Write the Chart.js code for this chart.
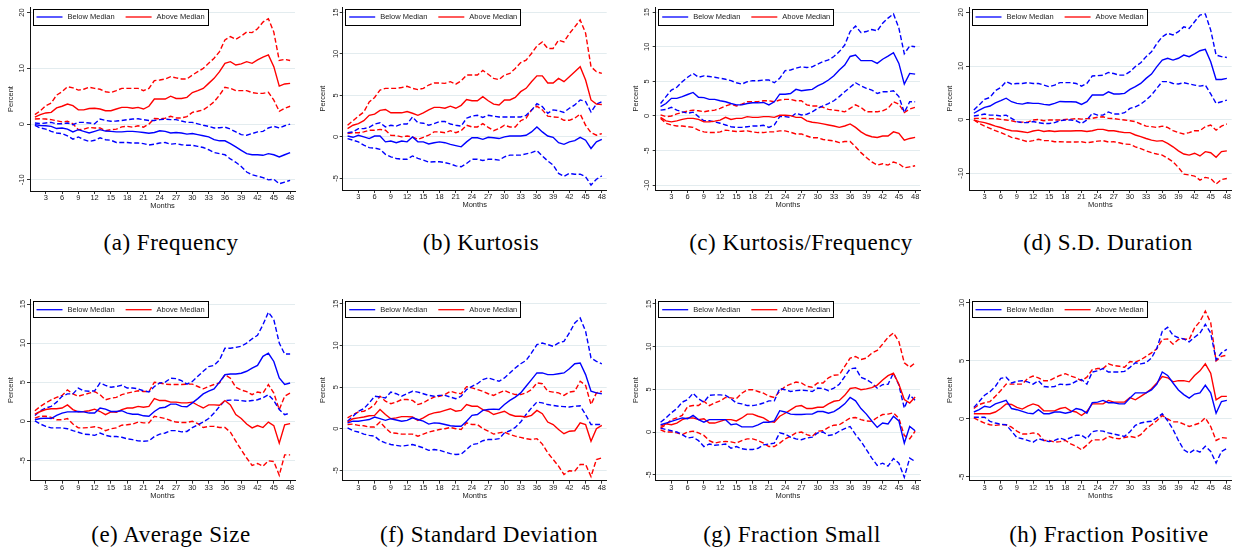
<!DOCTYPE html>
<html>
<head>
<meta charset="utf-8">
<title>Responses above and below the median</title>
<script src="https://cdn.jsdelivr.net/npm/chart.js@4.4.1/dist/chart.umd.min.js"></script>
<style>
  body { margin: 0; background: #fff; }
  #page { position: relative; width: 1240px; height: 556px; overflow: hidden; background: #fff; }
  #page canvas { position: absolute; }
  .caption { position: absolute; width: 320px; text-align: center; line-height: 26px;
             font-family: "Liberation Serif", "Times New Roman", serif; font-size: 23px;
             letter-spacing: 0.5px; color: #000; white-space: nowrap; }
</style>
</head>
<body>
<div id="page"></div>
<script>
const months = [1,2,3,4,5,6,7,8,9,10,11,12,13,14,15,16,17,18,19,20,21,22,23,24,
                25,26,27,28,29,30,31,32,33,34,35,36,37,38,39,40,41,42,43,44,45,46,47,48];
const xTicks = [3,6,9,12,15,18,21,24,27,30,33,36,39,42,45,48];

// y tick labels per panel
const yTicksA = [-10, 0, 10, 20];
const yTicksB = [-5, 0, 5, 10, 15];
const yTicksC = [-10, -5, 0, 5, 10, 15];
const yTicksD = [-10, 0, 10, 20];
const yTicksE = [-5, 0, 5, 10, 15];
const yTicksF = [-5, 0, 5, 10, 15];
const yTicksG = [-5, 0, 5, 10, 15];
const yTicksH = [-5, 0, 5, 10];

// (a) Frequency
const freqBelowHi = [0.2,0.1,0.2,0.3,0.05,0.05,0.2,-0.1,0.3,0.3,0.2,0.05,0.9,0.65,0.5,0.55,0.65,0.8,0.9,0.95,0.8,0.65,0.65,0.8,0.9,0.8,0.8,0.55,0.3,0.3,0.05,-0.2,-0.4,-0.7,-0.65,-0.55,-0.9,-1.4,-1.9,-2,-1.7,-1.4,-1.3,-0.7,-0.4,-0.7,-0.3,0];
const freqBelow   = [-0.1,-0.25,-0.3,-0.4,-0.8,-0.7,-0.9,-1.4,-1,-1.3,-1.6,-1.3,-1,-1.25,-1.3,-1.4,-1.4,-1.3,-1.3,-1.4,-1.5,-1.65,-1.5,-1.2,-1.3,-1.6,-1.5,-1.6,-1.8,-1.7,-1.9,-2.1,-2.3,-2.8,-3,-3,-3.5,-4.1,-4.7,-5.3,-5.5,-5.5,-5.6,-5.3,-5.5,-5.9,-5.5,-5.1];
const freqBelowLo = [-0.25,-0.7,-0.9,-1.3,-1.6,-1.7,-2.1,-2.7,-2.3,-2.8,-3.1,-2.9,-2.45,-2.8,-2.9,-3.3,-3.3,-3.3,-3.4,-3.4,-3.5,-3.75,-3.6,-3.4,-3.3,-3.6,-3.5,-3.7,-3.8,-3.8,-4,-4.2,-4.6,-5.1,-5.3,-5.5,-6.25,-6.85,-7.6,-8.6,-9.1,-9.35,-9.6,-10,-9.9,-10.7,-10.4,-10.1];
const freqAboveHi = [1.7,2.4,3.3,3.75,5.2,5.8,6.7,6.5,6.1,6.25,6.6,6.4,6.25,5.8,5.65,6,6.4,6.4,6.4,6.4,6,6.4,7.8,7.9,8.1,8.5,8.3,8.1,8.1,8.8,9.4,10,10.9,11.8,13,15.1,15.7,15.2,15.8,16.5,16.4,17.1,18.3,18.9,16.5,11.4,11.6,11.4];
const freqAbove   = [1.25,1.7,2,2.1,2.9,3.2,3.6,3.3,2.55,2.55,2.8,2.85,2.7,2.4,2.4,2.7,3,3,2.85,3,2.7,3.2,4.5,4.5,4.5,5,4.6,4.6,4.8,5.65,6,6.4,7.3,8.2,9.4,10.9,11.2,10.6,10.8,11.2,10.9,11.5,12,12.4,10.3,6.8,7.2,7.3];
const freqAboveLo = [0.9,0.95,0.9,0.8,0.6,0.4,0.5,0.05,-1,-0.9,-0.6,-0.7,-0.7,-1.2,-1,-0.9,-0.5,-0.4,-0.55,-0.3,-0.55,0,1,0.95,1.05,1.4,1.1,1.1,1.35,2.1,2.3,2.55,3.2,4,5.2,6.6,6.4,6,6,6,5.65,5.5,5.5,5.7,4.3,2.3,2.85,3.2];

// (b) Kurtosis
const kurtBelowHi = [0.5,0.6,1,1,1.15,1.55,1.7,1.2,1.4,1.3,1.55,1.55,2.4,1.7,1.65,1.4,1.6,1.85,1.85,1.55,1.4,1.3,2.25,2.5,2.6,2.35,2.6,2.5,2.4,2.4,2.4,2.4,2.4,2.6,3.2,4,3.65,2.85,3.25,3.15,2.95,3.45,3.85,4.45,4.25,3,3.95,4.25];
const kurtBelow   = [0.1,-0.05,0.2,0,-0.2,0.1,0.1,-0.6,-0.5,-0.7,-0.5,-0.6,0,-0.6,-0.6,-0.85,-0.7,-0.6,-0.7,-0.9,-1.05,-1.2,-0.6,-0.1,-0.1,-0.3,-0.05,-0.1,-0.2,0,0.1,0.1,0.1,0.2,0.6,1.2,0.6,0.1,-0.05,-0.7,-0.9,-0.6,-0.45,-0.05,-0.4,-1.4,-0.6,-0.3];
const kurtBelowLo = [-0.2,-0.4,-0.6,-1,-1.3,-1.35,-1.5,-2.1,-2.4,-2.6,-2.7,-2.7,-2.3,-2.6,-2.8,-3.05,-3,-3,-3.1,-3.25,-3.5,-3.6,-3.2,-2.7,-2.7,-2.85,-2.7,-2.7,-2.8,-2.4,-2.2,-2.2,-2.2,-2.05,-1.9,-1.65,-2.3,-2.9,-3.4,-4.4,-4.75,-4.4,-4.5,-4.5,-4.8,-5.8,-5.1,-4.7];
const kurtAboveHi = [1.4,1.95,2.5,3,4.2,4.75,5.65,5.85,5.85,5.85,5.95,6.1,5.85,5.7,5.85,6.25,6.5,6.5,6.45,6.65,6.35,6.75,7.45,7.45,7.45,8,7.55,7.05,6.9,7.45,7.65,8.25,8.95,9.25,10.05,10.95,11.45,10.65,10.65,11.65,11.45,12.45,13.25,14.1,12.5,8.45,7.85,7.65];
const kurtAbove   = [1,1.4,1.6,1.95,2.6,2.75,3.2,3.3,2.9,2.9,2.9,3.05,2.85,2.6,2.9,3.25,3.55,3.55,3.45,3.7,3.45,3.8,4.5,4.35,4.35,4.85,4.35,3.95,3.85,4.45,4.45,4.75,5.45,5.85,6.65,7.35,7.35,6.5,6.5,7.05,6.65,7.25,7.85,8.45,6.85,4.45,3.95,3.9];
const kurtAboveLo = [0.4,0.5,0.5,0.6,0.8,0.8,0.9,0.8,0.2,0.15,0,0.1,0,-0.3,-0.05,0.2,0.6,0.6,0.5,0.75,0.5,0.75,1.4,1.2,1.2,1.6,1.15,0.75,1,1.4,1.2,1.2,1.95,2.25,3.25,3.7,3.25,2.5,2.4,2.35,2,2,2.25,2.75,1.4,0.5,0.2,0.4];

// (c) Kurtosis/Frequency
const kfBelowHi = [1.8,2.8,3.75,4.15,4.95,5.6,6.15,5.6,5.8,5.7,5.6,5.45,5.3,5.1,4.8,4.6,4.95,5.1,5.1,5.2,5.2,4.8,5.45,6.55,6.65,6.9,7.1,7,7.1,7.5,7.85,8.1,8.6,9.3,10.25,12.2,13,12.05,12.2,12.5,12.3,13.4,14.15,14.75,12.7,9,10.1,10];
const kfBelow   = [1.35,1.8,2.55,2.55,2.8,3.1,3.4,2.7,2.65,2.4,2.4,2.2,2.05,1.8,1.6,1.6,1.8,1.9,1.9,1.95,1.6,2.05,3.15,3.15,3.25,3.85,3.65,3.75,3.85,4.35,4.7,5.2,5.8,6.65,7.35,8.6,8.8,8,8,8,7.6,8.2,8.65,9.15,7.6,4.6,6.15,6.05];
const kfBelowLo = [0.85,0.95,1.25,0.85,0.6,0.4,0.55,-0.1,-0.7,-0.7,-0.85,-1.05,-1.3,-1.55,-1.65,-1.65,-1.55,-1.45,-1.45,-1.35,-1.65,-1.3,-0.1,-0.1,-0.2,0.4,0.15,0.25,0.6,1.1,1.45,1.8,2.2,2.8,3.5,4.15,4.8,4.35,4,3.75,3.25,3.5,3.5,3.65,2.8,0.5,2.05,2.05];
const kfAboveHi = [0.15,-0.1,0,0.3,0.5,0.7,0.85,0.75,0.6,0.75,0.85,1.1,1.45,1.7,1.45,1.7,2.05,2.05,2.05,2.2,2.2,2.05,2.3,2.4,2.4,2.2,2.2,1.6,1.45,1.45,1.25,0.95,0.85,0.75,0.6,1.1,1.6,1.25,0.6,0.6,0.6,0.75,1.1,2.05,1.7,0.5,1,1.25];
const kfAbove   = [-0.2,-0.7,-0.85,-0.7,-0.5,-0.35,-0.35,-0.5,-0.85,-0.85,-0.75,-0.6,-0.2,-0.5,-0.35,-0.35,-0.1,-0.2,-0.2,-0.1,-0.1,-0.2,0.1,0.1,0.05,-0.2,-0.2,-0.7,-0.9,-1,-1.15,-1.3,-1.45,-1.65,-1.45,-1.15,-1.65,-2.3,-2.75,-3,-3.1,-2.9,-2.9,-2.3,-2.5,-3.5,-3.25,-3.1];
const kfAboveLo = [-0.35,-1.05,-1.3,-1.45,-1.45,-1.55,-1.65,-2.05,-2.3,-2.4,-2.4,-2.3,-2.05,-2.15,-2.25,-2.2,-2.15,-2.3,-2.4,-2.4,-2.3,-2.3,-2.15,-2.15,-2.35,-2.6,-2.6,-2.9,-3.15,-3.15,-3.4,-3.5,-3.6,-3.85,-3.7,-3.7,-4.45,-5.3,-6,-6.65,-7.1,-6.9,-7.1,-6.65,-6.9,-7.5,-7.35,-7.2];

// (d) S.D. Duration
const sdBelowHi = [1.8,2.75,3.8,4.15,5.4,6,7.1,6.65,6.75,6.75,6.9,6.75,6.75,6.45,6.15,6.45,6.9,6.9,6.9,6.75,6.25,6.75,8.15,8.2,8.3,8.8,8.6,8.3,8.3,8.95,9.9,10.6,11.75,12.65,14.2,15.45,16.1,15.8,16.4,17.3,17,18.25,19.5,19.7,16.7,12.05,11.75,11.6];
const sdBelow   = [1.2,1.8,2.3,2.55,3.15,3.55,4,3.35,3.05,2.9,3.15,3.05,3.05,2.85,2.75,3.05,3.4,3.35,3.35,3.3,2.85,3.35,4.6,4.6,4.6,5.2,4.8,4.8,4.9,5.65,6.15,6.75,7.7,8.5,9.9,11.1,11.45,11.1,11.45,12.05,11.75,12.25,12.85,13.1,10.8,7.5,7.5,7.7];
const sdBelowLo = [0.7,0.85,1.05,0.85,0.85,0.7,0.85,0.25,-0.35,-0.55,-0.55,-0.35,-0.55,-0.7,-0.7,-0.55,-0.2,-0.05,-0.05,-0.2,-0.7,-0.05,1.2,0.85,0.85,1.45,1.05,1.05,1.3,2.1,2.4,2.9,3.65,4.6,5.85,7.1,7.1,6.75,6.65,6.9,6.65,6.45,6.25,6.45,4.8,3.05,3.35,3.65];
const sdAboveHi = [0.25,0.25,0.25,0.2,0.2,0.05,-0.05,-0.2,-0.45,-0.45,-0.45,-0.05,0.05,-0.2,-0.05,-0.05,-0.05,0.05,0.1,0.2,0.1,0.2,0.25,0.45,0.55,0.25,0.2,0.05,-0.05,-0.2,-0.35,-0.8,-1.2,-1.3,-1.45,-1.2,-1.45,-2.05,-2.4,-2.65,-2.4,-2.05,-2.05,-1.3,-1,-1.95,-1.2,-0.8];
const sdAbove   = [-0.05,-0.35,-0.55,-0.85,-1.2,-1.45,-1.8,-2.05,-2.1,-2.25,-2.4,-2.1,-1.95,-2.2,-2.05,-2.2,-2.1,-2.1,-2.1,-2.05,-2.05,-2.2,-2.05,-1.8,-1.8,-2.05,-2.05,-2.25,-2.4,-2.4,-2.85,-3.15,-3.5,-3.8,-4,-3.9,-4.4,-5.05,-5.8,-6.4,-6.6,-6.25,-6.75,-5.95,-6.15,-7,-5.95,-5.8];
const sdAboveLo = [-0.05,-0.7,-1.2,-1.6,-2.05,-2.4,-2.85,-3.3,-3.5,-3.8,-4.1,-3.9,-3.65,-3.9,-3.9,-4.1,-4.1,-4.15,-4.15,-4.15,-4.1,-4.3,-4.15,-4,-3.9,-4.15,-4.1,-4.3,-4.55,-4.6,-5.05,-5.4,-5.8,-6.15,-6.4,-6.6,-7.2,-7.85,-8.9,-10.15,-10.3,-10.5,-11.25,-10.75,-10.95,-12,-11.15,-10.95];

// (e) Average Size
const sizeBelowHi = [0.75,1.35,1.7,1.9,2.45,3.2,3.5,3.5,4.25,3.9,3.85,3.9,4.9,4.6,4.35,4.45,4.6,4.25,4.25,4.15,3.9,3.75,4.45,4.9,5,5.5,5.45,5.2,4.75,5.1,5.75,6.4,7,7.15,7.85,9.35,9.35,9.45,9.6,10,10.55,11,12.35,13.95,13,10,8.6,8.6];
const sizeBelow   = [0.2,0.35,0.4,0.35,0.75,1.05,1.2,1.2,1.25,1.2,1.05,1.05,1.7,1.55,1.25,1.25,1.35,1.05,0.9,0.9,0.7,0.65,1.25,1.7,1.8,2.2,2.2,1.9,1.85,2.35,2.9,3.5,3.85,4.15,5,5.95,6.05,6.05,6.15,6.4,6.8,7.15,8.3,8.7,7.65,5.55,4.7,4.9];
const sizeBelowLo = [0.05,-0.35,-0.65,-0.85,-0.85,-0.85,-0.95,-1.2,-1.4,-1.65,-1.7,-1.8,-1.5,-1.8,-1.95,-1.95,-2.05,-2.25,-2.35,-2.5,-2.55,-2.5,-1.95,-1.65,-1.5,-1.2,-1.2,-1.35,-1.3,-0.8,-0.45,-0.1,0.35,1.05,1.9,2.65,2.7,2.7,2.65,2.55,2.65,2.75,3,3.4,2.65,1.5,0.85,1.05];
const sizeAboveHi = [1.35,1.9,2.35,2.75,3.05,3.3,4,3.5,3.2,3.4,3.6,3.8,3.4,2.75,2.95,3.05,3.4,3.6,3.75,3.9,3.8,3.8,5,4.9,4.75,4.7,4.7,4.7,4.75,4.75,4.45,4.15,4.45,4.7,4.9,5.95,5.5,4.35,4,3.8,3.4,3.75,3.6,4.7,3.6,1.5,3.2,3.6];
const sizeAbove   = [0.9,1.25,1.5,1.6,1.6,1.7,2.1,1.5,1.2,1.25,1.35,1.55,1.25,0.85,1.2,1.15,1.5,1.7,1.7,1.9,1.8,1.9,2.9,2.65,2.65,2.45,2.45,2.35,2.35,2.45,2.05,1.7,2.1,2.1,2.05,2.65,2.1,0.85,0.35,-0.35,-0.85,-0.55,-0.8,-0.1,-0.55,-2.8,-0.45,-0.3];
const sizeAboveLo = [0.4,0.65,0.65,0.5,0.2,0.2,0.35,-0.35,-0.85,-0.85,-0.8,-0.7,-0.85,-1.2,-0.95,-0.85,-0.5,-0.45,-0.35,-0.1,-0.2,-0.2,0.65,0.5,0.35,0.1,-0.1,-0.15,-0.15,0,-0.3,-0.8,-0.65,-0.65,-0.8,-0.8,-1.4,-2.55,-3.65,-4.7,-5.65,-5.4,-5.75,-5.05,-5.15,-6.9,-4.3,-4.3];

// (f) Standard Deviation
const stdBelowHi = [0.9,1.5,2.1,2.4,3.1,3.9,3.8,3.7,4.4,4.2,3.9,4.2,4.5,4.4,4.2,4,3.9,4,4,3.8,3.6,3.9,4.7,5.1,5.4,5.9,6.1,5.9,5.7,6.1,6.7,7.3,7.8,8.2,9.1,10.1,10.3,10.1,9.9,10.3,10.5,11.5,12.7,13.3,11.7,8.5,8.1,7.8];
const stdBelow   = [0.7,0.9,0.9,1,1.1,1.4,1.2,1,1.2,1.05,0.9,1,1.3,1.1,0.9,0.55,0.7,0.65,0.5,0.35,0.3,0.3,0.9,1.6,1.7,2.2,2.3,2.35,2.3,2.9,3.4,3.8,4.3,5.1,5.9,6.7,6.7,6.5,6.5,6.6,6.7,7.2,7.8,7.9,6.5,4.5,4.3,4.2];
const stdBelowLo = [0.1,-0.25,-0.4,-0.65,-0.8,-0.9,-1.45,-1.7,-1.9,-2,-2.1,-2,-1.9,-2.1,-2.3,-2.6,-2.5,-2.6,-2.8,-3,-3.1,-3.05,-2.5,-1.9,-1.8,-1.45,-1.3,-1.3,-1.2,-0.5,-0.25,0.15,0.8,1.7,2.5,3.2,3.1,2.9,2.8,2.7,2.65,2.6,2.7,2.75,1.7,0.5,0.5,0.5];
const stdAboveHi = [1.3,1.7,2,2.1,2.4,2.9,3.9,3.3,3,3.2,3.5,3.5,3.4,2.9,3.1,3.5,3.8,3.9,4.1,4.5,4.3,4.2,5.05,4.9,4.7,4.5,4.2,4,4.3,4.6,4.3,4.1,4.1,4.3,4.7,5.5,5.4,4.5,4.4,4.3,4,4.4,4.5,5.7,5.2,2.9,4.3,4.5];
const stdAbove   = [0.8,1.2,1.3,1.4,1.55,1.6,2.3,1.7,1.2,1.3,1.45,1.45,1.4,1,1.3,1.7,1.9,2,2.2,2.4,2.1,2.2,2.9,2.7,2.7,2.3,2.1,1.7,1.9,2.1,1.7,1.5,1.5,1.4,1.6,2.2,1.8,0.8,0.5,-0.1,-0.6,-0.3,-0.25,0.7,0.5,-1.5,0,0.4];
const stdAboveLo = [0.5,0.55,0.4,0.35,0.2,0.2,0.8,0.1,-0.5,-0.55,-0.65,-0.65,-0.65,-0.9,-0.65,-0.4,-0.25,-0.1,0,0.15,0,-0.1,0.7,0.5,0.5,0,-0.3,-0.65,-0.5,-0.4,-0.7,-0.9,-1.05,-1.2,-1.3,-1.2,-1.85,-2.9,-3.7,-4.5,-5.5,-5.05,-5.1,-4.3,-4.3,-5.75,-3.7,-3.5];

// (g) Fraction Small
const smallBelowHi = [1.15,1.65,2.25,2.75,3.5,3.8,4.55,3.9,3.5,4.3,4.35,4.35,4.3,3.9,3.4,3.3,3.1,3.1,3.2,3.4,3.65,3.65,5.1,4.95,4.75,4.85,4.9,4.85,4.75,5.15,5.1,4.85,5.15,5.6,6.5,7.4,7.5,6.4,6.15,5.75,5.15,5.55,5.6,6.9,5.5,2.8,4.35,3.7];
const smallBelow   = [0.85,1.05,1.25,1.45,1.65,1.55,1.95,1.45,1.15,1.45,1.45,1.45,1.45,0.85,0.95,0.6,0.6,0.6,0.85,1.15,1.15,1.3,2.5,2.35,2.1,2.05,2.05,2.1,2.1,2.4,2.4,2.2,2.4,2.8,3.3,4.05,3.65,2.75,2.1,1.3,0.55,1.05,0.95,1.85,1.3,-1.3,0.65,0.15];
const smallBelowLo = [0.45,0.3,0.15,0,-0.3,-0.7,-0.6,-1,-1.7,-1.4,-1.55,-1.5,-1.4,-1.9,-1.7,-1.95,-2.05,-2.05,-1.9,-1.5,-1.4,-1.3,-0.1,-0.25,-0.6,-0.8,-0.9,-0.7,-0.6,-0.1,0,-0.4,-0.3,0.1,0.4,0.65,-0.3,-1.1,-2.05,-3.05,-3.9,-3.65,-4,-3.1,-3.65,-5.3,-3.05,-3.45];
const smallAboveHi = [0.45,0.85,1.45,1.65,1.95,3,3.1,3.1,3.6,3.1,3.4,3.65,4.05,4,3.9,4.55,4.95,4.95,4.75,4.55,4.2,4.05,4.75,5.35,5.6,5.85,5.75,5.35,5.25,5.75,5.75,6.35,6.65,6.7,7.7,8.65,8.85,8.5,8.65,9.25,9.55,10.3,11.1,11.6,10.6,8.1,7.6,8.1];
const smallAbove   = [0.65,0.95,0.85,1.05,1.45,1.65,1.65,1.45,1.55,1.05,1.05,1.25,1.45,1.45,1.3,1.65,2.1,2.1,1.85,1.65,1.25,1.15,1.85,2.2,2.6,3,3.1,2.75,2.75,2.9,2.9,3.3,3.6,3.7,4.3,5.1,5.2,4.95,5.05,5.2,5.5,6.1,6.6,6.9,5.6,3.8,3.4,4.1];
const smallAboveLo = [0.25,0,0,-0.1,-0.3,0,0.1,-0.1,-0.4,-1,-1.3,-1.15,-1.1,-1.15,-1.3,-1,-0.8,-0.8,-1,-1.3,-1.7,-1.7,-1.3,-0.8,-0.5,-0.1,0,-0.3,-0.5,0.1,0.15,0.55,0.8,0.85,1.25,1.65,1.7,1.45,1.3,1.25,1.7,2.05,2.1,2.25,1.6,-0.4,-0.8,0.1];

// (h) Fraction Positive
const posBelowHi = [1,1.5,2.05,2.35,2.8,3.5,3.6,3.1,3.25,3.3,3.2,3,3.3,2.8,2.75,2.8,3,2.95,3,3.25,3.4,3,4.05,4.15,4.35,4.05,4.05,4.05,4.1,4.45,4.85,4.75,4.85,5.25,6.1,7.55,7.9,7.2,7,6.9,6.65,7.05,7.4,8.15,7.4,5.1,5.7,6];
const posBelow   = [0.6,0.8,1.1,1,1.3,1.45,1.6,0.9,0.8,0.65,0.5,0.45,0.8,0.45,0.45,0.6,0.6,0.5,0.6,0.9,0.8,0.5,1.4,1.45,1.6,1.4,1.4,1.3,1.3,1.8,2.25,2.25,2.25,2.5,3,4.05,3.75,3.1,2.5,2.1,1.8,2.15,2.25,2.9,2.25,0.5,1.5,1.6];
const posBelowLo = [0.15,0.15,0.15,-0.2,-0.35,-0.45,-0.5,-1.05,-1.6,-1.7,-1.85,-2,-1.7,-1.85,-1.95,-1.85,-1.65,-1.8,-1.6,-1.4,-1.4,-1.7,-1.1,-1,-1.05,-1.2,-1.3,-1.4,-1.5,-1.1,-0.55,-0.35,-0.25,-0.2,0.1,0.45,-0.15,-0.9,-1.85,-2.65,-2.95,-2.65,-2.85,-2.35,-2.8,-3.8,-2.8,-2.55];
const posAboveHi = [0.9,1.25,1.4,1.5,1.95,2.45,3,3,3,3,3.5,3.7,3.55,3.3,3.3,3.55,3.75,3.9,3.7,3.55,3.3,3.6,4.25,4.35,4.35,4.75,4.6,4.55,4.45,4.95,4.9,5.1,5.4,5.7,6.05,6.85,6.9,6.45,6.85,6.9,6.85,7.85,8.4,9.3,8.3,5,5.4,5.5];
const posAbove   = [0.45,0.45,0.45,0.45,0.6,0.9,1.3,1.25,1,0.85,1.1,1.3,1.15,0.7,0.7,0.7,0.9,1,0.7,0.6,0.3,0.65,1.3,1.3,1.3,1.6,1.45,1.45,1.45,1.85,1.65,1.95,2.25,2.6,3.1,3.65,3.55,3.2,3.3,3.3,3.2,3.75,4.15,4.75,3.95,1.65,1.95,1.95];
const posAboveLo = [0.1,-0.15,-0.35,-0.5,-0.55,-0.5,-0.5,-0.7,-1.05,-1.3,-1.3,-1.2,-1.3,-1.85,-1.85,-2,-1.95,-1.85,-2.15,-2.35,-2.65,-2.25,-1.8,-1.8,-1.8,-1.5,-1.65,-1.7,-1.6,-1.5,-1.6,-1.35,-0.85,-0.5,-0.15,0.3,0,-0.25,-0.25,-0.45,-0.65,-0.5,-0.35,0.1,-0.65,-1.85,-1.6,-1.65];

const BLUE = 'rgb(0,0,255)';
const RED = 'rgb(255,0,0)';
const INK = '#222';
const GRID = '#e3ecef';
const SANS = '"Liberation Sans", Arial, Helvetica, sans-serif';

// plot boxes are in page pixels: L/R = left/right edge of the plot region, T/B = top/bottom
const panels = [
  { caption: '(a) Frequency', capX: 171, col: 0, top: 0, L: 30, R: 295, T: 7, B: 191, yMin: -12, yMax: 21, yTicks: yTicksA,
    below: [freqBelowLo, freqBelow, freqBelowHi], above: [freqAboveLo, freqAbove, freqAboveHi] },
  { caption: '(b) Kurtosis', capX: 481, col: 1, top: 0, L: 342.7, R: 606.7, T: 7, B: 190, yMin: -6.4, yMax: 15.65, yTicks: yTicksB,
    below: [kurtBelowLo, kurtBelow, kurtBelowHi], above: [kurtAboveLo, kurtAbove, kurtAboveHi] },
  { caption: '(c) Kurtosis/Frequency', capX: 801, col: 2, top: 0, L: 655.7, R: 920, T: 7, B: 190, yMin: -10.7, yMax: 15.75, yTicks: yTicksC,
    below: [kfBelowLo, kfBelow, kfBelowHi], above: [kfAboveLo, kfAbove, kfAboveHi] },
  { caption: '(d) S.D. Duration', capX: 1108, col: 3, top: 0, L: 969, R: 1231.7, T: 7, B: 190, yMin: -13.1, yMax: 21, yTicks: yTicksD,
    below: [sdBelowLo, sdBelow, sdBelowHi], above: [sdAboveLo, sdAbove, sdAboveHi] },
  { caption: '(e) Average Size', capX: 171, col: 0, top: 280, L: 30, R: 295, T: 299.7, B: 480.7, yMin: -7.6, yMax: 15.55, yTicks: yTicksE,
    below: [sizeBelowLo, sizeBelow, sizeBelowHi], above: [sizeAboveLo, sizeAbove, sizeAboveHi] },
  { caption: '(f) Standard Deviation', capX: 489, col: 1, top: 280, L: 342.7, R: 606.7, T: 299.7, B: 480.7, yMin: -6.25, yMax: 15.5, yTicks: yTicksF,
    below: [stdBelowLo, stdBelow, stdBelowHi], above: [stdAboveLo, stdAbove, stdAboveHi] },
  { caption: '(g) Fraction Small', capX: 792, col: 2, top: 280, L: 655.7, R: 920, T: 299.7, B: 480.7, yMin: -5.7, yMax: 15.5, yTicks: yTicksG,
    below: [smallBelowLo, smallBelow, smallBelowHi], above: [smallAboveLo, smallAbove, smallAboveHi] },
  { caption: '(h) Fraction Positive', capX: 1109, col: 3, top: 280, L: 969, R: 1231.7, T: 299.7, B: 480.7, yMin: -5.32, yMax: 10.28, yTicks: yTicksH,
    below: [posBelowLo, posBelow, posBelowHi], above: [posAboveLo, posAbove, posAboveHi] },
];

const CANVAS_W = 310;
const CANVAS_H = 225;
const Y_AXIS_W = 24;
const X_AXIS_H = 19.5;

// framed legend in the top-left corner of the plot region
const boxLegend = {
  id: 'boxLegend',
  afterDatasetsDraw(chart) {
    const { ctx, chartArea } = chart;
    const items = chart.data.datasets.filter(d => d.legendLabel);
    ctx.save();
    ctx.font = '7.5px ' + SANS;
    const x0 = chartArea.left + 2.5;
    const y0 = chartArea.top + 1.5;
    const h = 16;
    let w = 4;
    items.forEach(d => { w += 26 + 5 + ctx.measureText(d.legendLabel).width + 11; });
    w -= 8;
    ctx.fillStyle = '#fff';
    ctx.fillRect(x0, y0, w, h);
    ctx.strokeStyle = '#000';
    ctx.lineWidth = 1;
    ctx.strokeRect(Math.round(x0) + 0.5, Math.round(y0) + 0.5, Math.round(w), h);
    let x = x0 + 4;
    const cy = y0 + h / 2 + 0.5;
    items.forEach(d => {
      ctx.strokeStyle = d.borderColor;
      ctx.lineWidth = 1.3;
      ctx.beginPath();
      ctx.moveTo(x, cy);
      ctx.lineTo(x + 26, cy);
      ctx.stroke();
      x += 31;
      ctx.fillStyle = INK;
      ctx.textBaseline = 'middle';
      ctx.fillText(d.legendLabel, x, cy);
      x += ctx.measureText(d.legendLabel).width + 11;
    });
    ctx.restore();
  }
};

function series(values, color, dashed, legendLabel) {
  return {
    data: months.map((m, i) => ({ x: m, y: values[i] })),
    borderColor: color,
    borderWidth: 1.4,
    borderDash: dashed ? [5, 2.5] : [],
    pointRadius: 0,
    tension: 0,
    fill: false,
    legendLabel: legendLabel
  };
}

const page = document.getElementById('page');

panels.forEach(p => {
  const left = p.col * 310;
  const canvas = document.createElement('canvas');
  canvas.width = CANVAS_W;
  canvas.height = CANVAS_H;
  canvas.style.left = left + 'px';
  canvas.style.top = p.top + 'px';
  page.appendChild(canvas);

  const l = p.L - left, r = p.R - left, t = p.T - p.top, b = p.B - p.top;

  new Chart(canvas, {
    type: 'line',
    data: {
      datasets: [
        series(p.below[1], BLUE, false, 'Below Median'),
        series(p.above[1], RED, false, 'Above Median'),
        series(p.below[0], BLUE, true),
        series(p.below[2], BLUE, true),
        series(p.above[0], RED, true),
        series(p.above[2], RED, true)
      ]
    },
    options: {
      responsive: false,
      animation: false,
      events: [],
      layout: { padding: { left: l - Y_AXIS_W, right: CANVAS_W - r, top: t, bottom: CANVAS_H - b - X_AXIS_H } },
      plugins: { legend: { display: false }, tooltip: { enabled: false } },
      scales: {
        x: {
          type: 'linear',
          min: 0.1,
          max: 48.9,
          afterFit: s => { s.height = X_AXIS_H; },
          afterBuildTicks: s => { s.ticks = xTicks.map(v => ({ value: v })); },
          grid: { drawOnChartArea: false, drawTicks: true, tickLength: 3, tickColor: '#333', tickWidth: 1 },
          border: { display: true, color: '#111', width: 1 },
          ticks: { autoSkip: false, maxRotation: 0, padding: 0, color: INK, font: { family: SANS, size: 7.5, lineHeight: 1 } },
          title: { display: true, text: 'Months', color: INK, padding: 0, font: { family: SANS, size: 7.5, lineHeight: 1.2 } }
        },
        y: {
          min: p.yMin,
          max: p.yMax,
          afterFit: s => { s.width = Y_AXIS_W; },
          afterBuildTicks: s => { s.ticks = p.yTicks.map(v => ({ value: v })); },
          grid: { color: GRID, lineWidth: 1, drawTicks: true, tickLength: 3, tickColor: '#333', tickWidth: 1 },
          border: { display: true, color: '#111', width: 1 },
          ticks: { minRotation: 90, maxRotation: 90, crossAlign: 'center', padding: 0, color: INK,
                   font: { family: SANS, size: 7.5, lineHeight: 1 } },
          title: { display: true, text: 'Percent', color: INK, padding: 0, font: { family: SANS, size: 7.5, lineHeight: 1.2 } }
        }
      }
    },
    plugins: [boxLegend]
  });

  const cap = document.createElement('div');
  cap.className = 'caption';
  cap.textContent = p.caption;
  cap.style.left = (p.capX - 160) + 'px';
  cap.style.top = (p.top === 0 ? 230 : 522) + 'px';
  page.appendChild(cap);
});
</script>
</body>
</html>
